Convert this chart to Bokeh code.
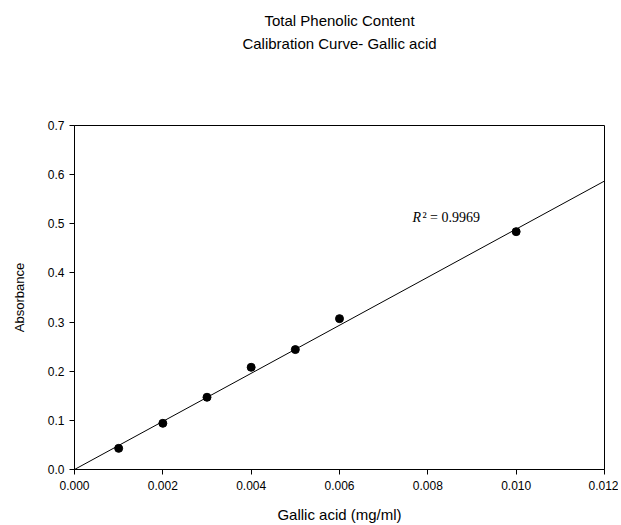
from bokeh.plotting import figure
from bokeh.models import Label, FixedTicker, NumeralTickFormatter, Range1d, Title
from bokeh.embed import file_html
from bokeh.resources import INLINE

conc = [0.001, 0.002, 0.003, 0.004, 0.005, 0.006, 0.010]
absorb = [0.043, 0.094, 0.147, 0.208, 0.244, 0.307, 0.484]
fit_x = [0.0, 0.012]
fit_y = [0.0, 0.587]
x_ticks = [0.000, 0.002, 0.004, 0.006, 0.008, 0.010, 0.012]
y_ticks = [0.0, 0.1, 0.2, 0.3, 0.4, 0.5, 0.6, 0.7]
title_lines = ["Total Phenolic Content", "Calibration Curve- Gallic acid"]
r2_text = "0.9969"

FONT = "Liberation Sans"

p = figure(width=618, height=525, output_backend="svg", toolbar_location=None,
           x_range=Range1d(0, 0.012), y_range=Range1d(0, 0.7),
           min_border_left=74, min_border_right=14, min_border_top=125, min_border_bottom=56)
p.background_fill_color = "white"
p.border_fill_color = "white"
p.outline_line_color = "black"
p.outline_line_width = 1
p.grid.visible = False

p.line(fit_x, fit_y, line_color="black", line_width=1)
p.scatter(conc, absorb, size=8, color="black")

for ax in (p.xaxis[0], p.yaxis[0]):
    ax.axis_line_color = "black"
    ax.major_tick_in = 0
    ax.major_tick_out = 5
    ax.minor_tick_line_color = None
    ax.major_label_text_font = FONT
    ax.major_label_text_font_size = "12px"
    ax.major_label_text_color = "black"
    ax.axis_label_text_font = FONT
    ax.axis_label_text_font_size = "15px"
    ax.axis_label_text_font_style = "normal"
    ax.axis_label_text_color = "black"

p.xaxis.ticker = FixedTicker(ticks=x_ticks)
p.yaxis.ticker = FixedTicker(ticks=y_ticks)
p.xaxis.formatter = NumeralTickFormatter(format="0.000")
p.yaxis.formatter = NumeralTickFormatter(format="0.0")
p.xaxis.axis_label = "Gallic acid (mg/ml)"
p.yaxis.axis_label = "Absorbance"
p.yaxis.axis_label_text_font_size = "13px"
p.xaxis.axis_label_standoff = 13
p.yaxis.axis_label_standoff = 18
p.xaxis.major_label_standoff = 6
p.yaxis.major_label_standoff = 5

spacer = Title(text=" ", text_font=FONT, text_font_size="15px", standoff=55)
t2 = Title(text=title_lines[1], align="center", text_font=FONT, text_font_size="15px",
           text_font_style="normal", text_color="black", standoff=0)
t1 = Title(text=title_lines[0], align="center", text_font=FONT, text_font_size="15px",
           text_font_style="normal", text_color="black", standoff=8)
p.add_layout(spacer, "above")
p.add_layout(t2, "above")
p.add_layout(t1, "above")

p.add_layout(Label(x=0.00765, y=0.513, text="R", text_align="left",
                   text_baseline="middle", text_font="Liberation Serif",
                   text_font_style="italic", text_font_size="14px", text_color="black"))
p.add_layout(Label(x=0.00765, y=0.513, x_offset=10, text="\u00b2 = " + r2_text, text_align="left",
                   text_baseline="middle", text_font="Liberation Serif",
                   text_font_size="14px", text_color="black"))

open("out.html", "w").write(file_html(p, INLINE))
